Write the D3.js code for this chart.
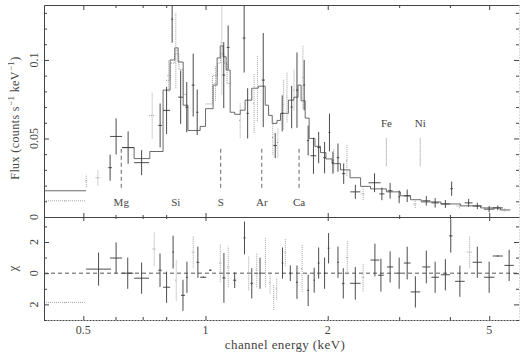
<!DOCTYPE html>
<html>
<head>
<meta charset="utf-8">
<script src="https://cdn.jsdelivr.net/npm/d3@7/dist/d3.min.js"></script>
<style>
  body { margin: 0; background: #fff; }
  svg { display: block; font-family: "Liberation Serif", "DejaVu Serif", serif; }
</style>
</head>
<body>
<div id="chart"></div>
<script>
// energy axis ticks (keV)
const energyMajor = [0.5, 1, 2, 5]
const energyMinor = [0.6, 0.7, 0.8, 3, 4]
const fluxMajor = [0, 0.05, 0.1]
const fluxMinor = [0.01, 0.02, 0.03, 0.04, 0.06, 0.07, 0.08, 0.09, 0.11, 0.12, 0.13]
const chiMajor = [-2, 0, 2]
const chiMinor = [-3, -1, 1, 3]
const chiLabels = ["2", "0", "2"]

// model (solid step): bin edges in keV and flux per bin
const modelEdges = [0.40, 0.508, 0.623, 0.667, 0.729, 0.786, 0.818, 0.840, 0.856, 0.881,
  0.905, 0.97, 1.0, 1.044, 1.068, 1.087, 1.105, 1.124, 1.15, 1.18,
  1.218, 1.252, 1.30, 1.349, 1.403, 1.43, 1.46, 1.50, 1.53, 1.60,
  1.65, 1.69, 1.72, 1.76, 1.80, 1.86, 1.92, 1.98, 2.05, 2.15,
  2.27, 2.41, 2.55, 2.79, 3.02, 3.20, 3.40, 3.80, 4.25, 4.76,
  5.33, 5.64]
const modelFlux = [0.0167, null, 0.0442, 0.0372, 0.0417, 0.0808, 0.1000, 0.1077, 0.0987, 0.0712,
  0.0551, 0.0577, 0.0690, 0.0840, 0.1013, 0.1090, 0.1020, 0.0936, 0.0667, 0.0654,
  0.0680, 0.0744, 0.0820, 0.0833, 0.0712, 0.0647, 0.0596, 0.0615, 0.0660, 0.0744,
  0.0763, 0.0840, 0.0740, 0.0630, 0.0500, 0.0450, 0.0410, 0.0370, 0.0340, 0.0300,
  0.0250, 0.0195, 0.0179, 0.0160, 0.0135, 0.0110, 0.0096, 0.0083, 0.0071, 0.0058,
  0.0045]

// second model (dotted step)
const model2Edges = [0.80, 0.818, 0.84, 0.86, 0.88, 0.90, 1.0, 1.04, 1.07, 1.09, 1.11, 1.13, 1.15]
const model2Flux = [0.087, 0.098, 0.104, 0.094, 0.078, null, 0.072, 0.090, 0.098, 0.104, 0.098, 0.085]

// data: [eLo, eHi, flux, fluxErr]
const dataSolid = [
  [0.576, 0.588, 0.0314, 0.0083], [0.582, 0.623, 0.0513, 0.0115], [0.623, 0.667, 0.0442, 0.0103],
  [0.667, 0.726, 0.0346, 0.0080], [0.765, 0.781, 0.0583, 0.0140], [0.786, 0.818, 0.0679, 0.0150],
  [0.823, 0.832, 0.1260, 0.0150], [0.856, 0.881, 0.0763, 0.0170], [0.892, 0.906, 0.0699, 0.0160],
  [0.925, 0.940, 0.0840, 0.0200], [0.948, 0.960, 0.0667, 0.0145], [1.100, 1.118, 0.0904, 0.0210],
  [1.128, 1.146, 0.1080, 0.0140], [1.235, 1.255, 0.1140, 0.0220], [1.262, 1.278, 0.0660, 0.0160],
  [1.375, 1.400, 0.0872, 0.0300], [1.470, 1.500, 0.0455, 0.0080], [1.535, 1.555, 0.0660, 0.0115],
  [1.620, 1.640, 0.0700, 0.0135], [1.670, 1.690, 0.0808, 0.0240], [1.740, 1.760, 0.0840, 0.0160],
  [1.780, 1.800, 0.0487, 0.0095], [1.815, 1.875, 0.0390, 0.0115], [1.885, 1.915, 0.0442, 0.0100],
  [1.950, 1.980, 0.0378, 0.0100], [2.010, 2.030, 0.0538, 0.0120], [2.050, 2.070, 0.0346, 0.0070],
  [2.105, 2.135, 0.0378, 0.0090], [2.170, 2.210, 0.0276, 0.0065], [2.274, 2.407, 0.0160, 0.0045],
  [2.520, 2.700, 0.0218, 0.0060], [2.680, 2.760, 0.0147, 0.0040], [2.810, 2.890, 0.0167, 0.0050],
  [2.985, 3.015, 0.0128, 0.0040], [3.080, 3.200, 0.0135, 0.0040], [3.420, 3.580, 0.0103, 0.0030],
  [3.600, 3.760, 0.0090, 0.0030], [3.800, 4.000, 0.0083, 0.0025], [4.010, 4.070, 0.0180, 0.0045],
  [4.350, 4.550, 0.0090, 0.0025], [4.550, 4.800, 0.0070, 0.0020], [4.850, 5.150, 0.0050, 0.0020],
  [5.100, 5.400, 0.0058, 0.0015]
]
const dataDotted = [
  [0.400, 0.508, 0.0103, 0.0004], [0.505, 0.512, 0.0230, 0.0040], [0.536, 0.550, 0.0250, 0.0050],
  [0.726, 0.752, 0.0647, 0.0147], [0.805, 0.818, 0.0900, 0.0100], [0.838, 0.852, 0.1060, 0.0240],
  [1.052, 1.064, 0.0850, 0.0110], [1.090, 1.104, 0.1110, 0.0330], [1.210, 1.225, 0.0615, 0.0110],
  [1.310, 1.325, 0.0724, 0.0190], [1.335, 1.350, 0.0820, 0.0210], [1.458, 1.472, 0.0506, 0.0110],
  [1.500, 1.515, 0.0474, 0.0095], [1.550, 1.565, 0.0718, 0.0160], [1.580, 1.595, 0.0763, 0.0160],
  [1.645, 1.660, 0.0808, 0.0130], [1.730, 1.745, 0.0890, 0.0200], [2.060, 2.080, 0.0360, 0.0075],
  [2.220, 2.240, 0.0360, 0.0100], [2.420, 2.470, 0.0147, 0.0040], [3.250, 3.320, 0.0083, 0.0025],
  [4.150, 4.300, 0.0070, 0.0015], [5.300, 5.600, 0.0045, 0.0010]
]

// residuals: [eLo, eHi, chi, chiErr]
const residSolid = [
  [0.508, 0.585, 0.26, 1.06], [0.582, 0.623, 0.97, 1.0], [0.623, 0.664, 0.0, 1.0],
  [0.667, 0.726, -0.32, 1.0], [0.765, 0.780, 0.19, 1.07], [0.786, 0.818, -0.9, 1.0],
  [0.828, 0.836, 1.35, 1.05], [0.870, 0.890, -1.42, 1.0], [0.895, 0.905, -0.26, 1.0],
  [0.950, 0.965, 0.7, 1.0], [0.970, 1.005, -0.26, 0.05], [1.020, 1.035, 0.19, 0.05],
  [1.100, 1.120, -0.3, 1.6], [1.170, 1.190, -0.45, 0.5], [1.240, 1.255, 2.26, 1.05],
  [1.290, 1.310, -0.65, 0.97], [1.355, 1.370, 0.0, 1.0], [1.540, 1.555, 0.65, 1.0],
  [1.610, 1.625, 0.0, 0.5], [1.670, 1.690, -0.58, 1.07], [1.780, 1.800, -1.1, 1.0],
  [1.845, 1.860, -0.45, 0.8], [1.890, 1.910, 0.65, 1.0], [1.955, 1.975, 0.0, 1.0],
  [2.000, 2.020, 1.6, 0.97], [2.110, 2.130, 0.7, 1.0], [2.170, 2.200, -0.65, 0.97],
  [2.270, 2.410, -0.65, 1.05], [2.550, 2.680, 0.84, 1.05], [2.660, 2.750, -0.13, 1.05],
  [2.800, 2.900, 0.4, 1.0], [2.970, 3.030, 0.0, 1.0], [3.080, 3.200, 0.65, 1.05],
  [3.200, 3.380, -1.2, 1.0], [3.420, 3.580, 0.4, 1.05], [3.600, 3.760, -0.26, 1.0],
  [3.800, 4.000, -0.1, 1.0], [3.980, 4.060, 2.39, 1.07], [4.120, 4.350, -0.52, 1.0],
  [4.550, 4.800, 0.7, 1.0], [4.850, 5.150, -0.26, 1.0], [5.100, 5.400, 1.1, 0.05],
  [5.450, 5.750, 0.5, 1.0]
]
const residDotted = [
  [0.400, 0.508, -1.87, 0.05], [0.740, 0.755, 1.55, 1.05], [0.842, 0.852, -0.45, 1.3],
  [0.925, 0.940, 1.35, 1.0], [1.080, 1.095, 0.65, 1.2], [1.130, 1.145, 0.4, 1.3],
  [1.270, 1.285, 0.0, 1.1], [1.330, 1.345, 0.2, 1.1], [1.400, 1.410, 0.7, 1.6],
  [1.435, 1.450, -0.6, 0.7], [1.465, 1.480, -1.55, 0.8], [1.490, 1.505, -1.0, 0.7],
  [1.565, 1.580, 1.35, 0.9], [1.720, 1.740, 0.3, 1.5], [2.220, 2.250, 1.0, 1.07],
  [2.420, 2.470, -0.26, 0.9], [4.400, 4.550, 1.35, 1.0]
]

// emission line markers
const lineNames = ["Mg", "Si", "S", "Ar", "Ca"]
const lineEnergies = [0.62, 0.845, 1.09, 1.376, 1.70]
const lineShown = [true, false, true, true, true]
const ironNames = ["Fe", "Ni"]
const ironEnergies = [2.79, 3.38]

const width = 526, height = 355
const pLeft = 44, pRight = 519, pTop = 5, pMid = 217, pBottom = 320
const ink = "#444"

const x = d3.scaleLog().domain([0.4, 5.92]).range([pLeft, pRight])
const yFlux = d3.scaleLinear().domain([0, 0.135]).range([pMid, pTop])
const yChi = d3.scaleLinear().domain([-3, 3.6]).range([pBottom, pMid])

const svg = d3.select("#chart").append("svg")
  .attr("width", width)
  .attr("height", height)

const defs = svg.append("defs")
defs.append("clipPath").attr("id", "clipTop").append("rect")
  .attr("x", pLeft).attr("y", pTop).attr("width", pRight - pLeft).attr("height", pMid - pTop)
defs.append("clipPath").attr("id", "clipBot").append("rect")
  .attr("x", pLeft).attr("y", pMid).attr("width", pRight - pLeft).attr("height", pBottom - pMid)

function stepPath(edges, values, y) {
  const p = d3.path()
  let prev = null
  values.forEach((v, i) => {
    if (v == null) { prev = null; return }
    if (prev == null) p.moveTo(x(edges[i]), y(v))
    else p.lineTo(x(edges[i]), y(v))
    p.lineTo(x(edges[i + 1]), y(v))
    prev = v
  })
  return p.toString()
}

function crosses(g, rows, y, stroke, dash) {
  const c = g.selectAll(null).data(rows).enter().append("g")
  c.append("line")
    .attr("x1", d => x(d[0])).attr("x2", d => x(d[1]))
    .attr("y1", d => y(d[2])).attr("y2", d => y(d[2]))
  c.append("line")
    .attr("x1", d => x(Math.sqrt(d[0] * d[1]))).attr("x2", d => x(Math.sqrt(d[0] * d[1])))
    .attr("y1", d => y(d[2] - d[3])).attr("y2", d => y(d[2] + d[3]))
  c.selectAll("line")
    .attr("stroke", stroke)
    .attr("stroke-width", 0.9)
    .attr("stroke-dasharray", dash)
}

// ---- top panel
const gTop = svg.append("g").attr("clip-path", "url(#clipTop)")
gTop.append("path")
  .attr("d", stepPath(model2Edges, model2Flux, yFlux))
  .attr("fill", "none").attr("stroke", "#999").attr("stroke-dasharray", "1,1")
gTop.append("path")
  .attr("d", stepPath(modelEdges, modelFlux, yFlux))
  .attr("fill", "none").attr("stroke", "#5a5a5a").attr("stroke-width", 0.9)
crosses(gTop, dataDotted, yFlux, "#999", "1,1")
crosses(gTop, dataSolid, yFlux, "#383838", null)

// line markers
svg.selectAll(".marker").data(lineEnergies.filter((_, i) => lineShown[i])).enter()
  .append("line")
  .attr("x1", d => x(d)).attr("x2", d => x(d))
  .attr("y1", yFlux(0.0186)).attr("y2", yFlux(0.0442))
  .attr("stroke", "#666").attr("stroke-dasharray", "4,3")
svg.selectAll(".lineLabel").data(lineNames).enter()
  .append("text")
  .attr("x", (d, i) => x(lineEnergies[i]))
  .attr("y", yFlux(0.0096))
  .attr("dy", "0.35em")
  .attr("text-anchor", "middle")
  .attr("font-size", 11).attr("fill", ink)
  .text(d => d)
svg.selectAll(".ironMarker").data(ironEnergies).enter()
  .append("line")
  .attr("x1", d => x(d)).attr("x2", d => x(d))
  .attr("y1", yFlux(0.0327)).attr("y2", yFlux(0.0506))
  .attr("stroke", "#888").attr("stroke-dasharray", "1,1")
svg.selectAll(".ironLabel").data(ironNames).enter()
  .append("text")
  .attr("x", (d, i) => x(ironEnergies[i]))
  .attr("y", yFlux(0.0596))
  .attr("dy", "0.35em")
  .attr("text-anchor", "middle")
  .attr("font-size", 11).attr("fill", ink)
  .text(d => d)

// ---- bottom panel
const gBot = svg.append("g").attr("clip-path", "url(#clipBot)")
gBot.append("line")
  .attr("x1", pLeft).attr("x2", pRight)
  .attr("y1", yChi(0)).attr("y2", yChi(0))
  .attr("stroke", "#555").attr("stroke-dasharray", "4,3")
crosses(gBot, residDotted, yChi, "#999", "1,1")
crosses(gBot, residSolid, yChi, "#383838", null)

// ---- axes
function styleAxis(g, domainStroke, domainDash) {
  g.selectAll(".tick text").remove()
  g.selectAll(".tick line").attr("stroke", ink)
  g.select(".domain").attr("stroke", domainStroke).attr("stroke-dasharray", domainDash)
}
function addAxis(axis, tx, ty, ticks, size, domainStroke, domainDash) {
  svg.append("g")
    .attr("transform", `translate(${tx},${ty})`)
    .call(axis.tickValues(ticks).tickSize(size).tickSizeOuter(0))
    .call(g => styleAxis(g, domainStroke, domainDash))
}

// x axes
addAxis(d3.axisBottom(x), 0, pTop, energyMajor, 5, ink, null)
addAxis(d3.axisBottom(x), 0, pTop, energyMinor, 3, "none", null)
addAxis(d3.axisTop(x), 0, pMid, energyMajor, 4, ink, null)
addAxis(d3.axisTop(x), 0, pMid, energyMinor, 2, "none", null)
addAxis(d3.axisBottom(x), 0, pMid, energyMajor, 4, "none", null)
addAxis(d3.axisBottom(x), 0, pMid, energyMinor, 2, "none", null)
addAxis(d3.axisTop(x), 0, pBottom, energyMajor, 4, ink, "2,1")
addAxis(d3.axisTop(x), 0, pBottom, energyMinor, 3, "none", null)

// y axes
addAxis(d3.axisRight(yFlux), pLeft, 0, fluxMajor, 5, ink, null)
addAxis(d3.axisRight(yFlux), pLeft, 0, fluxMinor, 3, "none", null)
addAxis(d3.axisLeft(yFlux), pRight, 0, fluxMajor, 5, "#bbb", "1,2")
addAxis(d3.axisLeft(yFlux), pRight, 0, fluxMinor, 3, "none", null)
addAxis(d3.axisRight(yChi), pLeft, 0, chiMajor, 5, ink, null)
addAxis(d3.axisRight(yChi), pLeft, 0, chiMinor, 3, "none", null)
addAxis(d3.axisLeft(yChi), pRight, 0, chiMajor, 5, "#bbb", "1,2")
addAxis(d3.axisLeft(yChi), pRight, 0, chiMinor, 3, "none", null)

// tick labels
svg.selectAll(".xLabel").data(energyMajor).enter()
  .append("text")
  .attr("x", d => x(d)).attr("y", 334)
  .attr("text-anchor", "middle")
  .attr("font-size", 12).attr("fill", ink)
  .text(d => d)

svg.selectAll(".fluxLabel").data(fluxMajor).enter()
  .append("text")
  .attr("transform", d => `translate(38,${yFlux(d)}) rotate(-90)`)
  .attr("text-anchor", "middle")
  .attr("font-size", 12).attr("fill", ink)
  .text(d => d)

svg.selectAll(".chiLabel").data(chiMajor).enter()
  .append("text")
  .attr("transform", d => `translate(38,${yChi(d)}) rotate(-90)`)
  .attr("text-anchor", "middle")
  .attr("font-size", 12).attr("fill", ink)
  .text((d, i) => chiLabels[i])

// axis titles
svg.append("text")
  .attr("x", 285).attr("y", 349)
  .attr("text-anchor", "middle")
  .attr("font-size", 13).attr("letter-spacing", 0.4).attr("fill", ink)
  .text("channel energy (keV)")

const yTitle = svg.append("text")
  .attr("transform", "translate(19,118) rotate(-90)")
  .attr("text-anchor", "middle")
  .attr("font-size", 12).attr("letter-spacing", 0.4).attr("fill", ink)
yTitle.append("tspan").text("Flux (counts s")
yTitle.append("tspan").attr("font-size", 9).attr("dy", -5).text("\u22121")
yTitle.append("tspan").attr("dy", 5).text(" keV")
yTitle.append("tspan").attr("font-size", 9).attr("dy", -5).text("\u22121")
yTitle.append("tspan").attr("dy", 5).text(")")

svg.append("text")
  .attr("transform", `translate(17,${yChi(0.3)}) rotate(-90)`)
  .attr("text-anchor", "middle")
  .attr("font-size", 13).attr("fill", ink)
  .text("\u03c7")
</script>
</body>
</html>
